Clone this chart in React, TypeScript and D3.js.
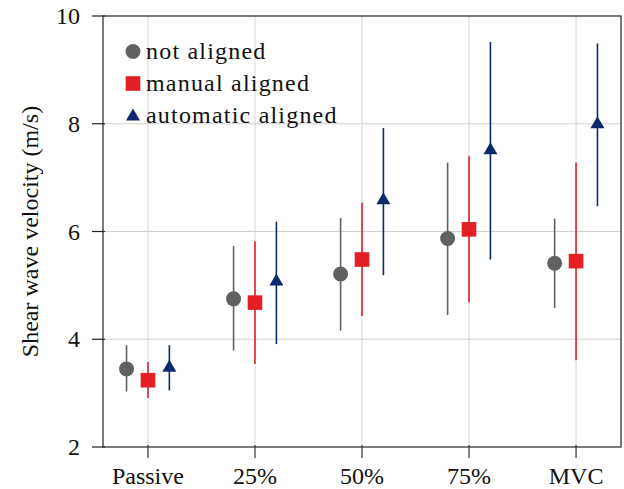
import * as d3 from "d3";
import { useEffect, useRef } from "react";

const categories = ["Passive", "25%", "50%", "75%", "MVC"];
const seriesNames = ["not aligned", "manual aligned", "automatic aligned"];
const yTicks = [2, 4, 6, 8, 10];

// mean, lower, upper per category
const notAlignedMean = [3.45, 4.75, 5.21, 5.87, 5.41];
const notAlignedLow = [3.03, 3.79, 4.16, 4.45, 4.58];
const notAlignedHigh = [3.89, 5.73, 6.25, 7.28, 6.24];

const manualMean = [3.24, 4.68, 5.48, 6.04, 5.45];
const manualLow = [2.91, 3.54, 4.43, 4.68, 3.61];
const manualHigh = [3.58, 5.82, 6.54, 7.4, 7.28];

const autoMean = [3.47, 5.07, 6.58, 7.51, 7.99];
const autoLow = [3.05, 3.91, 5.19, 5.48, 6.47];
const autoHigh = [3.89, 6.18, 7.92, 9.52, 9.49];

const colors = ["#616161", "#e31e24", "#0c2a6b"];
const offsets = [-0.2, 0, 0.2];

export default function App() {
  const ref = useRef<SVGSVGElement>(null);

  useEffect(() => {
    if (!ref.current) return;
    const svg = d3.select(ref.current);
    svg.selectAll("*").remove();

    const width = 624,
      height = 489,
      margin = { top: 16, right: 3, bottom: 42, left: 103 };
    const serif = "Liberation Serif";

    svg.attr("width", width).attr("height", height);

    const x = d3.scaleLinear().domain([-0.42, 4.42]).range([margin.left, width - margin.right]);
    const y = d3.scaleLinear().domain([2, 10]).range([height - margin.bottom, margin.top]);
    const [x0, x1] = x.range();
    const [y0, y1] = y.range();

    const series = [
      { mean: notAlignedMean, low: notAlignedLow, high: notAlignedHigh },
      { mean: manualMean, low: manualLow, high: manualHigh },
      { mean: autoMean, low: autoLow, high: autoHigh },
    ];

    // marker drawing
    const marker = (g: any, k: number, cx: number, cy: number) => {
      if (k === 0) {
        g.append("circle").attr("cx", cx).attr("cy", cy).attr("r", 7.5).attr("fill", colors[k]);
      } else if (k === 1) {
        g.append("rect")
          .attr("x", cx - 7.3)
          .attr("y", cy - 7.3)
          .attr("width", 14.6)
          .attr("height", 14.6)
          .attr("fill", colors[k]);
      } else {
        g.append("path")
          .attr("d", `M${cx},${cy - 8}L${cx + 7},${cy + 4}L${cx - 7},${cy + 4}Z`)
          .attr("fill", colors[k]);
      }
    };

    svg.append("rect").attr("width", width).attr("height", height).attr("fill", "#fff");

    // Grid lines
    svg
      .append("g")
      .selectAll("line")
      .data(categories)
      .join("line")
      .attr("x1", (d, i) => x(i))
      .attr("x2", (d, i) => x(i))
      .attr("y1", y0)
      .attr("y2", y1)
      .attr("stroke", "#dcdcdc")
      .attr("stroke-width", 1.2);

    svg
      .append("g")
      .selectAll("line")
      .data(yTicks.slice(1, -1))
      .join("line")
      .attr("x1", x0)
      .attr("x2", x1)
      .attr("y1", (d) => y(d))
      .attr("y2", (d) => y(d))
      .attr("stroke", "#d0d0d0")
      .attr("stroke-width", 1.2);

    // Error bars and markers
    series.forEach((s, k) => {
      const g = svg.append("g");
      categories.forEach((c, i) => {
        const cx = x(i + offsets[k]);
        g.append("line")
          .attr("x1", cx)
          .attr("x2", cx)
          .attr("y1", y(s.low[i]))
          .attr("y2", y(s.high[i]))
          .attr("stroke", colors[k])
          .attr("stroke-width", 1.6);
        marker(g, k, cx, y(s.mean[i]));
      });
    });

    // Axis box
    svg
      .append("rect")
      .attr("x", x0)
      .attr("y", y1)
      .attr("width", x1 - x0)
      .attr("height", y0 - y1)
      .attr("fill", "none")
      .attr("stroke", "#333")
      .attr("stroke-width", 1.3);

    // Y ticks
    const yAxis = svg.append("g");
    yTicks.forEach((t) => {
      yAxis
        .append("line")
        .attr("x1", x0 - 11)
        .attr("x2", x0 + 2)
        .attr("y1", y(t))
        .attr("y2", y(t))
        .attr("stroke", "#222")
        .attr("stroke-width", 1.2);
      yAxis
        .append("text")
        .attr("x", 80)
        .attr("y", y(t) + 8)
        .attr("text-anchor", "end")
        .attr("font-family", serif)
        .attr("font-size", 24)
        .attr("fill", "#111")
        .text(t);
    });

    // X ticks
    const xAxis = svg.append("g");
    categories.forEach((c, i) => {
      xAxis
        .append("line")
        .attr("x1", x(i))
        .attr("x2", x(i))
        .attr("y1", y0 - 2)
        .attr("y2", y0 + 11)
        .attr("stroke", "#333")
        .attr("stroke-width", 1.2);
      xAxis
        .append("text")
        .attr("x", x(i))
        .attr("y", 484)
        .attr("text-anchor", "middle")
        .attr("font-family", serif)
        .attr("font-size", 24)
        .attr("fill", "#111")
        .text(c);
    });

    // Y label
    svg
      .append("text")
      .attr("transform", `translate(38, ${(y0 + y1) / 2}) rotate(-90)`)
      .attr("text-anchor", "middle")
      .attr("font-family", serif)
      .attr("font-size", 24)
      .attr("fill", "#111")
      .text("Shear wave velocity (m/s)");

    // Legend
    seriesNames.forEach((n, k) => {
      const g = svg.append("g");
      marker(g, k, 133, 51.5 + k * 32 + (k === 2 ? 1 : 0));
      g.append("text")
        .attr("x", 146)
        .attr("y", 58.5 + k * 32)
        .attr("font-family", serif)
        .attr("font-size", 24)
        .attr("letter-spacing", 1.2)
        .attr("fill", "#111")
        .text(n);
    });
  }, []);

  return <svg ref={ref} style={{ position: "absolute", left: 0, top: 0 }} />;
}
